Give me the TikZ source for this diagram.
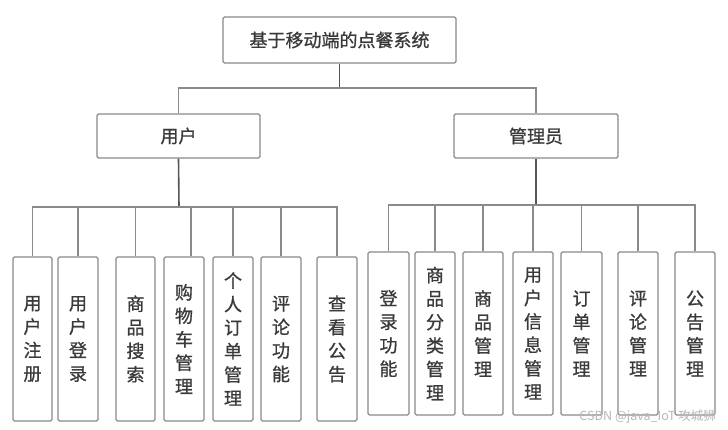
\documentclass[tikz,border=0pt]{standalone}
\usepackage{fontspec}
\newfontfamily\cjk[FakeBold=0.9]{Noto Sans CJK SC}
\newfontfamily\cjkmark{Noto Sans CJK SC}
\definecolor{boxline}{HTML}{8A8A8A}
\definecolor{stem}{HTML}{555555}
\definecolor{txt}{HTML}{3A3A3A}
\definecolor{wm}{HTML}{B8B8B8}
\begin{document}
\begin{tikzpicture}[x=1pt,y=-1pt,
  box/.style={draw=boxline, line width=1.2pt, rounded corners=1.5pt, fill=white,
    text=txt, inner sep=0pt, align=center},
  headbox/.style={box, font=\cjk\fontsize{18}{18}\selectfont},
  leafbox/.style={box, minimum width=40, font=\cjk\fontsize{18}{23.5}\selectfont},
  busline/.style={draw=boxline, line width=1.2pt},
  stemline/.style={draw=stem, line width=1.6pt}]
\fill[white] (0,0) rectangle (728,430);
\useasboundingbox (0,0) rectangle (728,430);

\node[headbox, minimum width=233, minimum height=46] (top) at (339.5,40) {基于移动端的点餐系统};
\node[headbox, minimum width=163, minimum height=44] (user) at (178.5,136) {用户};
\node[headbox, minimum width=164, minimum height=44] (admin) at (536,136) {管理员};

\coordinate (tb) at (339.5,88);
\draw[stemline] (top.south) -- (tb);
\draw[busline] (user.north) |- (tb) -| (admin.north);

% user leaves
\foreach \n/\cx/\w/\t in {
  L1/32.5/39/用\\户\\注\\册,
  L2/78/40/用\\户\\登\\录,
  L3/135.5/39/商\\品\\搜\\索,
  L4/184/40/购\\物\\车\\管\\理,
  L5/233/40/个\\人\\订\\单\\管\\理,
  L6/281/40/评\\论\\功\\能,
  L7/337/40/查\\看\\公\\告}{
  \node[leafbox, minimum width=\w, minimum height=164] (\n) at (\cx,339) {\t};
}
% admin leaves
\foreach \n/\cx/\w/\t in {
  R1/388.5/41/登\\录\\功\\能,
  R2/435/40/商\\品\\分\\类\\管\\理,
  R3/483/40/商\\品\\管\\理,
  R4/533/40/用\\户\\信\\息\\管\\理,
  R5/581.5/41/订\\单\\管\\理,
  R6/638/40/评\\论\\管\\理,
  R7/695/40/公\\告\\管\\理}{
  \node[leafbox, minimum width=\w, minimum height=163] (\n) at (\cx,333.5) {\t};
}

% user bus
\coordinate (lb) at (179,207);
\draw[stemline] (user.south) -- (lb);
\draw[busline] (L1.north) |- (lb) -| (L7.north);
\foreach \n in {L2,L3,L5,L6}{
  \draw[busline] (\n.north) -- (\n.north |- lb);
}
\coordinate (l4top) at ([xshift=7pt]L4.north);
\draw[busline] (l4top) -- (l4top |- lb);

% admin bus
\coordinate (rb) at (536,205);
\draw[stemline] (admin.south) -- (rb);
\draw[busline] (R1.north) |- (rb) -| (R7.north);
\foreach \n in {R2,R3,R4,R5,R6}{
  \draw[busline] (\n.north) -- (\n.north |- rb);
}

\node[text=wm, font=\cjkmark\fontsize{12.5}{13}\selectfont, anchor=east, inner sep=0pt] (mark) at (716,417) {CSDN @java\_IoT 攻城狮};
\end{tikzpicture}
\end{document}
